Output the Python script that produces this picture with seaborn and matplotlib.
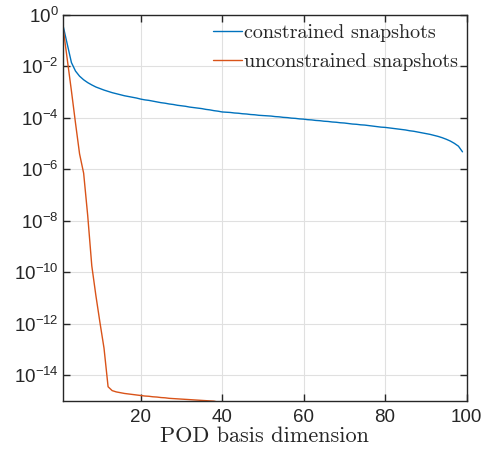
import matplotlib
matplotlib.use("Agg")
import matplotlib.pyplot as plt
import matplotlib.ticker as mticker
import numpy as np
import pandas as pd
import seaborn as sns

# log10 of the POD singular values
constrained_exp = [
    -0.45, -1.15, -1.85, -2.18, -2.38, -2.52, -2.63, -2.72, -2.80, -2.86,
    -2.92, -2.97, -3.02, -3.06, -3.10, -3.14, -3.17, -3.20, -3.23, -3.27,
    -3.30, -3.32, -3.35, -3.38, -3.41, -3.43, -3.46, -3.48, -3.51, -3.53,
    -3.55, -3.58, -3.60, -3.62, -3.64, -3.67, -3.69, -3.72, -3.74, -3.77,
    -3.78, -3.79, -3.81, -3.82, -3.84, -3.85, -3.87, -3.88, -3.90, -3.91,
    -3.92, -3.93, -3.95, -3.96, -3.98, -3.99, -4.01, -4.02, -4.04, -4.05,
    -4.07, -4.08, -4.10, -4.11, -4.13, -4.14, -4.16, -4.17, -4.19, -4.20,
    -4.22, -4.24, -4.25, -4.27, -4.28, -4.30, -4.32, -4.34, -4.36, -4.37,
    -4.39, -4.41, -4.43, -4.45, -4.47, -4.50, -4.52, -4.55, -4.58, -4.61,
    -4.64, -4.68, -4.72, -4.77, -4.83, -4.90, -4.99, -5.10, -5.32,
]
unconstrained_exp = [
    -0.55, -1.75, -2.95, -4.20, -5.40, -6.15, -7.80, -9.75, -10.90, -11.95,
    -12.95, -14.45, -14.60, -14.65, -14.68, -14.71, -14.73, -14.75, -14.77, -14.79,
    -14.81, -14.82, -14.84, -14.85, -14.87, -14.88, -14.90, -14.91, -14.92, -14.93,
    -14.94, -14.95, -14.96, -14.97, -14.98, -14.99, -15.00, -15.01, -15.05,
]
labels = ["constrained snapshots", "unconstrained snapshots"]
colors = ["#0072BD", "#D95319"]

df = pd.concat([
    pd.DataFrame({"dim": np.arange(1, len(constrained_exp) + 1),
                  "value": 10.0 ** np.array(constrained_exp), "series": labels[0]}),
    pd.DataFrame({"dim": np.arange(1, len(unconstrained_exp) + 1),
                  "value": 10.0 ** np.array(unconstrained_exp), "series": labels[1]}),
])

sns.set_theme(style="ticks")
plt.rcParams["font.family"] = ["Liberation Sans", "DejaVu Sans"]
plt.rcParams["mathtext.default"] = "regular"

fig = plt.figure(figsize=(4.83, 4.53), dpi=100)
ax = fig.add_axes([0.131, 0.115, 0.835, 0.852])

sns.lineplot(data=df, x="dim", y="value", hue="series", hue_order=labels,
             palette=colors, linewidth=1.0, ax=ax)

ax.set_yscale("log")
ax.set_xlim(1, 100)
ax.set_ylim(1e-15, 1)
ax.set_xticks([20, 40, 60, 80, 100])
ax.yaxis.set_major_locator(mticker.FixedLocator([10.0 ** e for e in range(-14, 1, 2)]))
ax.yaxis.set_major_formatter(mticker.LogFormatterMathtext())
ax.yaxis.set_minor_locator(mticker.NullLocator())

ax.grid(True, color="#e0e0e0", linewidth=0.8)
ax.tick_params(direction="in", length=5, width=1, colors="#262626",
               labelsize=13.5, top=True, right=True, labelcolor="#262626")
ax.tick_params(axis="x", pad=6)
for s in ax.spines.values():
    s.set_color("#262626")
    s.set_linewidth(1.0)

ax.set_xlabel("POD basis dimension", family="cmr10", fontsize=16,
              color="#262626", labelpad=0)
ax.set_ylabel("")

leg = ax.legend(loc="upper right", frameon=False, prop={"family": "cmr10", "size": 14.5},
                handlelength=1.4, handletextpad=0.1, labelspacing=0.55,
                borderaxespad=0.25, borderpad=0.2)

fig.savefig("out.png", dpi=100)
